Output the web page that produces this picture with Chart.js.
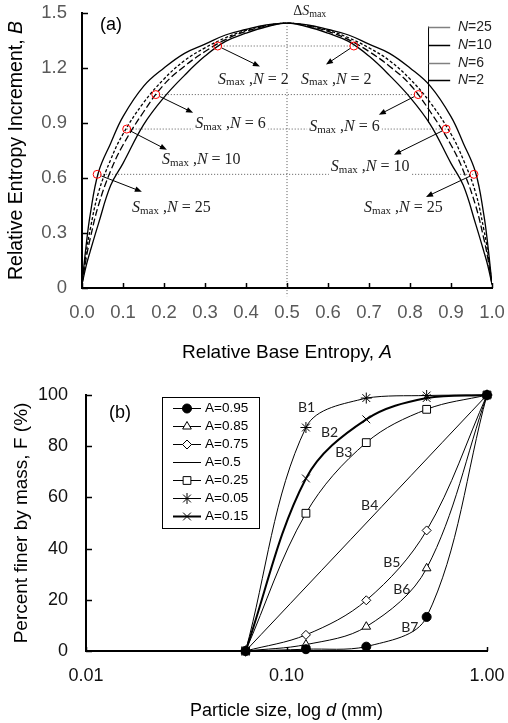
<!DOCTYPE html>
<html>
<head>
<meta charset="utf-8">
<script src="https://cdn.jsdelivr.net/npm/chart.js"></script>
<style>
  body { margin: 0; background: #fff; }
  canvas { position: absolute; left: 0; }
  #chartA { top: 0; }
  #chartB { top: 370px; }
</style>
</head>
<body>
<canvas id="chartA" width="508" height="365"></canvas>
<canvas id="chartB" width="508" height="353"></canvas>
<script>
// ---- panel (a) data ----
const relBase = [0, 0.01, 0.02, 0.04, 0.07, 0.1, 0.15, 0.2, 0.25, 0.3, 0.35, 0.4, 0.45, 0.5,
                 0.55, 0.6, 0.65, 0.7, 0.75, 0.8, 0.85, 0.9, 0.93, 0.96, 0.98, 0.99, 1]
const incN25 = [0.02, 0.23, 0.40, 0.63, 0.79, 0.935, 1.10, 1.20, 1.28, 1.33, 1.38, 1.41, 1.435, 1.445,
                1.435, 1.41, 1.38, 1.33, 1.28, 1.20, 1.10, 0.935, 0.79, 0.63, 0.40, 0.23, 0.02]
const incN10 = [0.02, 0.19, 0.32, 0.52, 0.70, 0.84, 1.01, 1.14, 1.24, 1.31, 1.365, 1.405, 1.432, 1.445,
                1.432, 1.405, 1.365, 1.31, 1.24, 1.14, 1.01, 0.84, 0.70, 0.52, 0.32, 0.19, 0.02]
const incN6 = [0.02, 0.16, 0.27, 0.45, 0.64, 0.78, 0.96, 1.11, 1.21, 1.29, 1.355, 1.40, 1.43, 1.445,
               1.43, 1.40, 1.355, 1.29, 1.21, 1.11, 0.96, 0.78, 0.64, 0.45, 0.27, 0.16, 0.02]
const incN2 = [0.02, 0.12, 0.20, 0.35, 0.56, 0.68, 0.89, 1.04, 1.16, 1.265, 1.345, 1.39, 1.425, 1.445,
               1.425, 1.39, 1.345, 1.265, 1.16, 1.04, 0.89, 0.68, 0.56, 0.35, 0.20, 0.12, 0.02]
const curveNames = ['N=25', 'N=10', 'N=6', 'N=2']
// S_max points, left side then right side
const smaxA = [0.037, 0.109, 0.180, 0.331, 0.663, 0.820, 0.888, 0.956]
const smaxB = [0.62, 0.867, 1.055, 1.32, 1.32, 1.055, 0.867, 0.62]
const smaxN = ['25', '10', '6', '2', '2', '6', '10', '25']
const xTicksA = [0, 0.1, 0.2, 0.3, 0.4, 0.5, 0.6, 0.7, 0.8, 0.9, 1]
const yTicksA = [0, 0.3, 0.6, 0.9, 1.2, 1.5]

// ---- panel (b) data ----
const sizes = [0.0625, 0.125, 0.25, 0.5, 1]
const seriesNames = ['A=0.95', 'A=0.85', 'A=0.75', 'A=0.5', 'A=0.25', 'A=0.05', 'A=0.15']
const finer095 = [0, 0.7, 1.7, 13.3, 100]
const finer085 = [0, 2.5, 9.5, 32.3, 100]
const finer075 = [0, 6.3, 19.8, 47.1, 100]
const finer050 = [0, 25, 50, 75, 100]
const finer025 = [0, 53.8, 81.4, 94.4, 100]
const finer005 = [0, 87.3, 98.8, 99.8, 100]
const finer015 = [0, 67.4, 90.5, 98.8, 100]
const curveTags = ['B7', 'B6', 'B5', 'B4', 'B3', 'B1', 'B2']
const xTicksB = [0.01, 0.1, 1]
const yTicksB = [0, 20, 40, 60, 80, 100]

const SANS = '"Liberation Sans", Arial, sans-serif'
const SERIF = '"Liberation Serif", "Times New Roman", serif'

function pts(xs, ys){ return xs.map((v, i) => ({x: v, y: ys[i]})) }

function drawRich(ctx, parts, x, y, align){
  let w = 0
  parts.forEach(p => { ctx.font = p.font; w += ctx.measureText(p.t).width })
  let cx = align === 'center' ? x - w / 2 : (align === 'right' ? x - w : x)
  ctx.textBaseline = 'middle'
  ctx.textAlign = 'left'
  parts.forEach(p => {
    ctx.font = p.font
    ctx.fillStyle = p.color || '#000'
    ctx.fillText(p.t, cx, y + (p.dy || 0))
    cx += ctx.measureText(p.t).width
  })
  return w
}

function richWidth(ctx, parts){
  let w = 0
  parts.forEach(p => { ctx.font = p.font; w += ctx.measureText(p.t).width })
  return w
}

function arrow(ctx, x0, y0, x1, y1){
  const a = Math.atan2(y1 - y0, x1 - x0), c = Math.cos(a), s = Math.sin(a)
  ctx.beginPath()
  ctx.moveTo(x0 + 4.5 * c, y0 + 4.5 * s)
  ctx.lineTo(x1 - 5 * c, y1 - 5 * s)
  ctx.stroke()
  ctx.beginPath()
  ctx.moveTo(x1, y1)
  ctx.lineTo(x1 - 7 * c + 2.8 * s, y1 - 7 * s - 2.8 * c)
  ctx.lineTo(x1 - 7 * c - 2.8 * s, y1 - 7 * s + 2.8 * c)
  ctx.closePath()
  ctx.fill()
}

// where the S_max labels and arrow tips sit (data coords of panel a)
const smaxNotes = [
  {lx: 0.122, ly: 0.437, ax: 0.146, ay: 0.525},
  {lx: 0.195, ly: 0.700, ax: 0.207, ay: 0.754},
  {lx: 0.276, ly: 0.896, ax: 0.271, ay: 0.956},
  {lx: 0.332, ly: 1.137, ax: 0.434, ay: 1.208},
  {lx: 0.534, ly: 1.137, ax: 0.595, ay: 1.219},
  {lx: 0.554, ly: 0.880, ax: 0.724, ay: 0.945},
  {lx: 0.607, ly: 0.661, ax: 0.761, ay: 0.727},
  {lx: 0.688, ly: 0.437, ax: 0.839, ay: 0.497}
]

function innerTicks(chart, lenX, lenY){
  const {ctx, scales: {x, y}} = chart
  ctx.save()
  ctx.strokeStyle = '#000'
  ctx.lineWidth = 1.5
  x.ticks.forEach(t => {
    const px = Math.round(x.getPixelForValue(t.value)) + 0.5
    ctx.beginPath(); ctx.moveTo(px, y.bottom); ctx.lineTo(px, y.bottom - lenX); ctx.stroke()
  })
  y.ticks.forEach(t => {
    const py = Math.round(y.getPixelForValue(t.value)) + 0.5
    ctx.beginPath(); ctx.moveTo(x.left, py); ctx.lineTo(x.left + lenY, py); ctx.stroke()
  })
  ctx.restore()
}

const notesA = {
  id: 'notesA',
  afterDatasetsDraw(chart){
    const {ctx, chartArea, scales: {x, y}} = chart
    innerTicks(chart, 5, 6)
    ctx.save()
    ctx.fillStyle = '#000'
    ctx.strokeStyle = '#000'
    ctx.lineWidth = 1
    smaxNotes.forEach((n, i) => {
      arrow(ctx, x.getPixelForValue(smaxA[i]), y.getPixelForValue(smaxB[i]),
            x.getPixelForValue(n.ax), y.getPixelForValue(n.ay))
    })
    smaxNotes.forEach((n, i) => {
      const parts = [
        {t: 'S', font: 'italic 16px ' + SERIF, color: '#222'},
        {t: 'max', font: '11px ' + SERIF, dy: 3, color: '#222'},
        {t: ' ,', font: '16px ' + SERIF, color: '#222'},
        {t: 'N', font: 'italic 16px ' + SERIF, color: '#222'},
        {t: ' = ' + smaxN[i], font: '16px ' + SERIF, color: '#222'}
      ]
      const lx = x.getPixelForValue(n.lx), ly = y.getPixelForValue(n.ly)
      const w = richWidth(ctx, parts)
      ctx.fillStyle = '#fff'
      ctx.fillRect(lx - 2, ly - 9, w + 4, 19)
      drawRich(ctx, parts, lx, ly, 'left')
    })
    // delta S max at the top
    drawRich(ctx, [
      {t: 'Δ', font: '14px ' + SERIF, color: '#222'},
      {t: 'S', font: 'italic 14px ' + SERIF, color: '#222'},
      {t: 'max', font: '10px ' + SERIF, dy: 3, color: '#222'}
    ], x.getPixelForValue(0.515), y.getPixelForValue(1.51), 'left')

    // N legend
    const lx = x.getPixelForValue(0.844) + 0.5
    ctx.strokeStyle = '#000'
    ctx.beginPath(); ctx.moveTo(lx, y.getPixelForValue(1.426)); ctx.lineTo(lx, y.getPixelForValue(0.902)); ctx.stroke()
    const legY = [1.426, 1.328, 1.23, 1.137]
    const legCol = ['#808080', '#000', '#808080', '#000']
    curveNames.forEach((nm, i) => {
      const py = Math.round(y.getPixelForValue(legY[i])) + 0.5
      ctx.strokeStyle = legCol[i]
      ctx.lineWidth = 1.5
      ctx.beginPath(); ctx.moveTo(lx, py); ctx.lineTo(x.getPixelForValue(0.898), py); ctx.stroke()
      drawRich(ctx, [
        {t: 'N', font: 'italic 14px ' + SANS, color: '#222'},
        {t: nm.slice(1), font: '14px ' + SANS, color: '#222'}
      ], x.getPixelForValue(0.917), py, 'left')
    })

    drawRich(ctx, [{t: '(a)', font: '18px ' + SANS}], 111, 25, 'center')

    // axis titles
    ctx.save()
    ctx.translate(17, (chartArea.top + chartArea.bottom) / 2)
    ctx.rotate(-Math.PI / 2)
    drawRich(ctx, [
      {t: 'Relative Entropy Increment, ', font: '19.5px ' + SANS},
      {t: 'B', font: 'italic 19.5px ' + SANS}
    ], 0, 0, 'center')
    ctx.restore()
    drawRich(ctx, [
      {t: 'Relative Base Entropy, ', font: '19px ' + SANS},
      {t: 'A', font: 'italic 19px ' + SANS}
    ], (chartArea.left + chartArea.right) / 2, 353, 'center')
    ctx.restore()
  }
}

const curveLines = [incN25, incN10, incN6, incN2]
const curveDash = [[], [3, 2], [7, 3], []]
const dsA = curveLines.map((arr, i) => ({
  label: curveNames[i],
  data: pts(relBase, arr),
  borderColor: '#000',
  borderWidth: 1.3,
  borderDash: curveDash[i],
  pointRadius: 0,
  tension: 0.4
}))
// dotted guide lines between paired S_max points
for (let k = 0; k < 4; k++) {
  dsA.push({
    data: [{x: smaxA[k], y: smaxB[k]}, {x: smaxA[7 - k], y: smaxB[7 - k]}],
    borderColor: '#555', borderWidth: 1, borderDash: [1, 2], pointRadius: 0
  })
}
dsA.push({
  data: [{x: 0.5, y: incN25[13]}, {x: 0.5, y: -0.045}],
  borderColor: '#555', borderWidth: 1, borderDash: [1, 2], pointRadius: 0, clip: false
})
dsA.push({
  data: pts(smaxA, smaxB),
  showLine: false,
  pointRadius: 4,
  pointStyle: 'circle',
  pointBorderColor: '#ff0000',
  pointBackgroundColor: 'rgba(0,0,0,0)',
  pointBorderWidth: 1,
  order: -1
})

new Chart(document.getElementById('chartA'), {
  type: 'line',
  data: {datasets: dsA},
  options: {
    responsive: false,
    animation: false,
    layout: {padding: {left: 0, right: 16, top: 13, bottom: 0}},
    plugins: {legend: {display: false}, tooltip: {enabled: false}},
    scales: {
      x: {
        type: 'linear', min: 0, max: 1,
        border: {color: '#000', width: 2},
        grid: {display: false, drawTicks: true, tickLength: 14},
        afterBuildTicks: s => { s.ticks = xTicksA.map(v => ({value: v})) },
        afterFit: s => { s.height = 77 },
        ticks: {padding: 0, color: '#595959', autoSkip: false, maxRotation: 0,
                font: {family: SANS, size: 18.5}, callback: v => v.toFixed(1)}
      },
      y: {
        min: 0, max: 1.5,
        border: {color: '#000', width: 2},
        grid: {display: false, drawTicks: true, tickLength: 15},
        afterBuildTicks: s => { s.ticks = yTicksA.map(v => ({value: v})) },
        afterFit: s => { s.width = 82 },
        ticks: {padding: 0, color: '#595959', font: {family: SANS, size: 18.5},
                callback: v => v === 0 ? '0' : v.toFixed(1)}
      }
    }
  },
  plugins: [notesA]
})

// ---- panel (b) ----
const finerSets = [finer095, finer085, finer075, finer050, finer025, finer005, finer015]
const markStyle = ['circle', 'triangle', 'rectRot', false, 'rect', 'star', 'crossRot']
const markSize = [4.5, 5, 4.5, 0, 5.5, 5.5, 5.5]
const markFill = ['#000', '#fff', '#fff', '#fff', '#fff', '#fff', '#fff']
const lineW = [1, 1, 1, 1, 1, 1, 2]

const dsB = finerSets.map((arr, i) => ({
  label: seriesNames[i],
  data: pts(sizes, arr),
  borderColor: '#000',
  borderWidth: lineW[i],
  pointStyle: markStyle[i],
  pointRadius: markSize[i],
  pointBackgroundColor: markFill[i],
  pointBorderColor: '#000',
  pointBorderWidth: 1,
  tension: 0.35,
  clip: false
}))

// where the B tags sit (data coords of panel b)
const tagPos = [
  {x: 0.412, y: 9.3}, {x: 0.376, y: 24.1}, {x: 0.335, y: 34.6}, {x: 0.260, y: 56.8},
  {x: 0.193, y: 77.4}, {x: 0.126, y: 95.3}, {x: 0.164, y: 85.2}
]

function marker(ctx, ds, px, py){
  if (!ds.pointStyle || !ds.pointRadius) return
  ctx.fillStyle = ds.pointBackgroundColor
  ctx.strokeStyle = ds.pointBorderColor
  ctx.lineWidth = ds.pointBorderWidth
  if (Chart.helpers && Chart.helpers.drawPoint) {
    Chart.helpers.drawPoint(ctx, {pointStyle: ds.pointStyle, radius: ds.pointRadius, rotation: 0, borderWidth: ds.pointBorderWidth}, px, py)
  } else {
    ctx.beginPath(); ctx.arc(px, py, ds.pointRadius, 0, Math.PI * 2); ctx.fill(); ctx.stroke()
  }
}

const notesB = {
  id: 'notesB',
  afterDatasetsDraw(chart){
    const {ctx, chartArea, scales: {x, y}} = chart
    innerTicks(chart, 4, 6)
    ctx.save()
    // curve tags
    chart.data.datasets.forEach((ds, i) => {
      drawRich(ctx, [{t: curveTags[i], font: '14px Lato, "Open Sans", sans-serif', color: '#222'}],
        x.getPixelForValue(tagPos[i].x), y.getPixelForValue(tagPos[i].y), 'center')
    })
    // legend box
    const bx = 162, by = 27, bw = 97, bh = 131
    ctx.fillStyle = '#fff'
    ctx.fillRect(bx, by, bw, bh)
    ctx.strokeStyle = '#000'
    ctx.lineWidth = 1
    ctx.strokeRect(bx + 0.5, by + 0.5, bw, bh)
    chart.data.datasets.forEach((ds, i) => {
      const ry = 38 + i * 18
      ctx.strokeStyle = ds.borderColor
      ctx.lineWidth = ds.borderWidth
      ctx.beginPath(); ctx.moveTo(173, ry + 0.5); ctx.lineTo(201, ry + 0.5); ctx.stroke()
      marker(ctx, ds, 187, ry + 0.5)
      drawRich(ctx, [{t: ds.label, font: '13.5px ' + SANS}], 205, ry, 'left')
    })
    drawRich(ctx, [{t: '(b)', font: '18px ' + SANS}], 120, 43, 'center')

    ctx.save()
    ctx.translate(22, (chartArea.top + chartArea.bottom) / 2)
    ctx.rotate(-Math.PI / 2)
    drawRich(ctx, [{t: 'Percent finer by mass, F (%)', font: '19px ' + SANS}], 0, 0, 'center')
    ctx.restore()
    drawRich(ctx, [
      {t: 'Particle size, log ', font: '18px ' + SANS},
      {t: 'd', font: 'italic 18px ' + SANS},
      {t: ' (mm)', font: '18px ' + SANS}
    ], (chartArea.left + chartArea.right) / 2, 341, 'center')
    ctx.restore()
  }
}

new Chart(document.getElementById('chartB'), {
  type: 'line',
  data: {datasets: dsB},
  options: {
    responsive: false,
    animation: false,
    layout: {padding: {left: 0, right: 21, top: 25, bottom: 0}},
    plugins: {legend: {display: false}, tooltip: {enabled: false}},
    scales: {
      x: {
        type: 'logarithmic', min: 0.01, max: 1,
        border: {color: '#000', width: 2},
        grid: {display: false, drawTicks: true, tickLength: 14},
        afterBuildTicks: s => { s.ticks = xTicksB.map(v => ({value: v})) },
        afterFit: s => { s.height = 72 },
        ticks: {padding: 0, color: '#111', autoSkip: false, maxRotation: 0,
                font: {family: SANS, size: 18}, callback: v => Number(v).toFixed(2)}
      },
      y: {
        min: 0, max: 100,
        border: {color: '#000', width: 2},
        grid: {display: false, drawTicks: true, tickLength: 18},
        afterBuildTicks: s => { s.ticks = yTicksB.map(v => ({value: v})) },
        afterFit: s => { s.width = 86 },
        ticks: {padding: 0, color: '#111', font: {family: SANS, size: 18}}
      }
    }
  },
  plugins: [notesB]
})
</script>
</body>
</html>
